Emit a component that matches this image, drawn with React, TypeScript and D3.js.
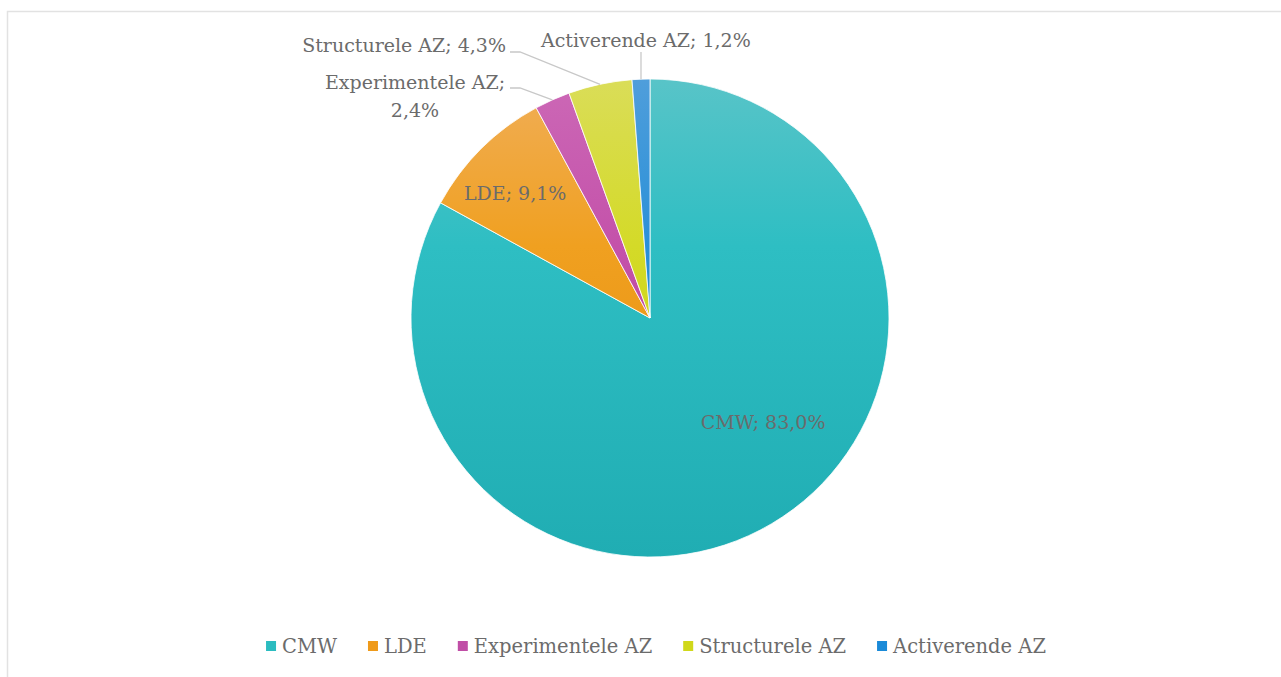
import React, { useEffect, useRef } from 'react';
import * as d3 from 'd3';

const categories = ['CMW', 'LDE', 'Experimentele AZ', 'Structurele AZ', 'Activerende AZ'];
const shares = [83.0, 9.1, 2.4, 4.3, 1.2];
const valueLabels = ['83,0%', '9,1%', '2,4%', '4,3%', '1,2%'];

// light (top) / base / dark (bottom) colour per slice
const topColors = ['#58c4c8', '#f0ae58', '#cc68b6', '#dadd58', '#4f9edb'];
const baseColors = ['#2ebec3', '#f0a020', '#c452aa', '#d4da28', '#2a90d8'];
const bottomColors = ['#20adb3', '#e48a08', '#ae3a94', '#c4cc00', '#0a7ccc'];
const legendColors = ['#2bbcc0', '#ef9a1a', '#c04ea6', '#d0d81a', '#1a8ad8'];

const W = 1281;
const H = 677;
const textColor = '#6b6b6b';
const fontFamily = '"DejaVu Serif", serif';

function App() {
  const ref = useRef<SVGSVGElement>(null);

  useEffect(() => {
    const svg = d3.select(ref.current);
    svg.selectAll('*').remove();

    const cx = 650, cy = 318, R = 239;

    // chart frame (runs off right and bottom)
    svg.append('rect')
      .attr('x', 7.5).attr('y', 11.5)
      .attr('width', W + 20).attr('height', H + 20)
      .attr('fill', 'white')
      .attr('stroke', '#e2e2e2')
      .attr('stroke-width', 1.5);

    const defs = svg.append('defs');
    categories.forEach((c, i) => {
      const g = defs.append('linearGradient')
        .attr('id', 'grad' + i)
        .attr('gradientUnits', 'userSpaceOnUse')
        .attr('x1', 0).attr('x2', 0)
        .attr('y1', -R).attr('y2', R);
      g.append('stop').attr('offset', '0%').attr('stop-color', topColors[i]);
      g.append('stop').attr('offset', '35%').attr('stop-color', baseColors[i]);
      g.append('stop').attr('offset', '100%').attr('stop-color', bottomColors[i]);
    });

    const pie = d3.pie<number>().sort(null).value(d => d);
    const arcs = pie(shares);
    const arc = d3.arc<d3.PieArcDatum<number>>().innerRadius(0).outerRadius(R);

    const g = svg.append('g').attr('transform', `translate(${cx},${cy})`);
    g.selectAll('path')
      .data(arcs)
      .enter()
      .append('path')
      .attr('d', arc)
      .attr('fill', (d, i) => `url(#grad${i})`)
      .attr('stroke', 'white')
      .attr('stroke-width', 0.8);

    const fs = 19;
    const polar = (a: number, r: number) => [r * Math.sin(a), -r * Math.cos(a)];
    const mid = (d: d3.PieArcDatum<number>) => (d.startAngle + d.endAngle) / 2;

    // inside labels: CMW and LDE
    const inside = [
      { i: 0, angle: (132.6 * Math.PI) / 180, r: 0.643 },
      { i: 1, angle: mid(arcs[1]) - 0.04, r: 0.77 },
    ];
    inside.forEach(({ i, angle, r }) => {
      const [x, y] = polar(angle, R * r);
      g.append('text')
        .attr('x', x).attr('y', y)
        .attr('text-anchor', 'middle')
        .attr('dominant-baseline', 'central')
        .attr('font-family', fontFamily)
        .attr('font-size', fs)
        .attr('fill', textColor)
        .text(`${categories[i]}; ${valueLabels[i]}`);
    });

    // outside labels with leader lines
    const leader = g.append('g')
      .attr('fill', 'none')
      .attr('stroke', '#c8c8c8')
      .attr('stroke-width', 1.3);
    const txt = (x: number, y: number, s: string, anchor: string) =>
      g.append('text')
        .attr('x', x).attr('y', y)
        .attr('text-anchor', anchor)
        .attr('dominant-baseline', 'central')
        .attr('font-family', fontFamily)
        .attr('font-size', fs)
        .attr('fill', textColor)
        .text(s);

    // Experimentele AZ
    {
      const [px, py] = polar(mid(arcs[2]), R);
      const ex = -140, ey = 88 - cy;
      leader.append('path').attr('d', `M${ex},${ey}H${ex + 10}L${px},${py}`);
      txt(ex - 95, 82 - cy, `${categories[2]};`, 'middle');
      txt(ex - 95, 110 - cy, valueLabels[2], 'middle');
    }
    // Structurele AZ
    {
      const [px, py] = polar(mid(arcs[3]), R);
      const ex = -140, ey = 52 - cy;
      leader.append('path').attr('d', `M${ex},${ey}H${ex + 10}L${px},${py}`);
      txt(ex - 4, 45 - cy, `${categories[3]}; ${valueLabels[3]}`, 'end');
    }
    // Activerende AZ
    {
      const [px, py] = polar(mid(arcs[4]), R);
      leader.append('path').attr('d', `M${px},${52 - cy}V${py}`);
      txt(px - 100, 40 - cy, `${categories[4]}; ${valueLabels[4]}`, 'start');
    }

    // legend
    const legend = svg.append('g');
    const items = legend.selectAll('g.item')
      .data(categories)
      .enter()
      .append('g')
      .attr('class', 'item');
    items.append('rect')
      .attr('width', 10).attr('height', 10)
      .attr('y', -5)
      .attr('fill', (d, i) => legendColors[i]);
    items.append('text')
      .attr('x', 16)
      .attr('dominant-baseline', 'central')
      .attr('font-family', fontFamily)
      .attr('font-size', 19.5)
      .attr('fill', textColor)
      .text(d => d);
    const widths: number[] = [];
    items.each(function () {
      const t = d3.select(this).select('text').node() as SVGTextElement;
      widths.push(16 + t.getComputedTextLength());
    });
    const gap = 31;
    const total = d3.sum(widths) + gap * (widths.length - 1);
    let x0 = 656 - total / 2;
    items.attr('transform', (d, i) => {
      const x = x0;
      x0 += widths[i] + gap;
      return `translate(${x},646)`;
    });
  }, []);

  return (
    <svg
      ref={ref}
      width={W}
      height={H}
      style={{ position: 'absolute', left: 0, top: 0, display: 'block' }}
    />
  );
}

export default App;
